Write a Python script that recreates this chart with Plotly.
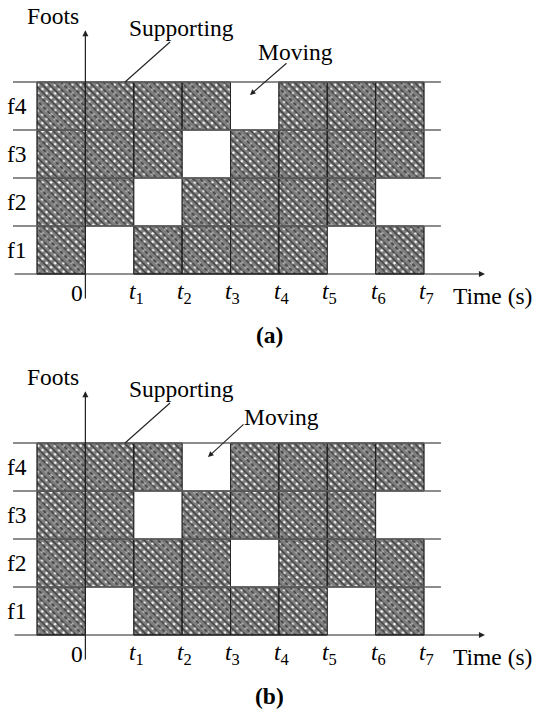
import plotly.graph_objects as go

# ---------------- data ----------------
feet = ["f1", "f2", "f3", "f4"]
col_starts = [-1, 0, 1, 2, 3, 4, 5, 6]          # each gait cell spans [start, start+1]
tick_vals = [1, 2, 3, 4, 5, 6, 7]
tick_text = ["<i>t</i><sub>%d</sub>" % k for k in tick_vals]

# cells where each foot is moving (start of the interval), panel (a)
moving_a_f1 = [0, 5]
moving_a_f2 = [1, 6]
moving_a_f3 = [2]
moving_a_f4 = [3]
# panel (b)
moving_b_f1 = [0, 5]
moving_b_f2 = [3]
moving_b_f3 = [1, 6]
moving_b_f4 = [2]

panels = [
    dict(name="(a)", xa="x", ya="y", moving=[moving_a_f1, moving_a_f2, moving_a_f3, moving_a_f4],
         mov_text=(4.354, 4.625), mov_tail=(4.189, 4.417), mov_head=(3.403, 3.729)),
    dict(name="(b)", xa="x2", ya="y2", moving=[moving_b_f1, moving_b_f2, moving_b_f3, moving_b_f4],
         mov_text=(4.044, 4.54), mov_tail=(3.30, 4.417), mov_head=(2.535, 3.708)),
]

FONT = "Liberation Serif"
FS = 23.5

fig = go.Figure()
shapes = []
annotations = []


def txt(xa, ya, x, y, s, **kw):
    d = dict(xref=xa, yref=ya, x=x, y=y, text=s, showarrow=False,
             font=dict(family=FONT, size=FS, color="black"))
    d.update(kw)
    annotations.append(d)


for p in panels:
    xa, ya = p["xa"], p["ya"]
    for row, mv in enumerate(p["moving"]):
        support = [c for c in col_starts if c not in mv]
        common = dict(x=[c + 0.5 for c in support], y=[1] * len(support), base=[row] * len(support),
                      width=1, xaxis=xa, yaxis=ya, showlegend=False, hoverinfo="skip")
        fig.add_trace(go.Bar(
            **common,
            marker=dict(color="white", line=dict(color="#222", width=0.8),
                        pattern=dict(shape="x", fgcolor="black", bgcolor="white",
                                     size=6, solidity=0.85)),
        ))
        fig.add_trace(go.Bar(
            **common,
            marker=dict(color="rgba(0,0,0,0)", line=dict(color="#222", width=0.8),
                        pattern=dict(shape="\\", fgcolor="black", bgcolor="rgba(0,0,0,0)",
                                     size=5, solidity=0.3)),
        ))
    # horizontal row separators
    for r in range(1, 5):
        shapes.append(dict(type="line", xref=xa, yref=ya, x0=-1.496, x1=7.35, y0=r, y1=r,
                           line=dict(color="#666", width=1.3), layer="above"))
    # x axis arrow
    annotations.append(dict(xref=xa, yref=ya, axref=xa, ayref=ya, x=8.26, y=0, ax=-1.496, ay=0,
                            text="", showarrow=True, arrowhead=2, arrowsize=1, arrowwidth=1.2,
                            arrowcolor="#222"))
    # y axis arrow
    annotations.append(dict(xref=xa, yref=ya, axref=xa, ayref=ya, x=0, y=5.08, ax=0, ay=-0.54,
                            text="", showarrow=True, arrowhead=2, arrowsize=1, arrowwidth=1.2,
                            arrowcolor="#222"))
    # tick labels
    txt(xa, ya, -0.173, -0.396, "0")
    for v, t in zip(tick_vals, tick_text):
        txt(xa, ya, v + 0.05, -0.40, t)
    # row labels
    for r, f in enumerate(feet):
        txt(xa, ya, -1.413, r + 0.5, f)
    txt(xa, ya, 8.406, -0.45, "Time (s)")
    txt(xa, ya, -0.669, 5.375, "Foots")
    # Supporting label + leader
    txt(xa, ya, 1.977, 5.125, "Supporting")
    shapes.append(dict(type="line", xref=xa, yref=ya, x0=1.749, y0=4.833, x1=0.819, y1=4.0,
                       line=dict(color="#222", width=1.1), layer="above"))
    # Moving label + arrow
    mx, my = p["mov_text"]
    txt(xa, ya, mx, my, "Moving")
    (tx, ty), (hx, hy) = p["mov_tail"], p["mov_head"]
    annotations.append(dict(xref=xa, yref=ya, axref=xa, ayref=ya, x=hx, y=hy, ax=tx, ay=ty,
                            text="", showarrow=True, arrowhead=2, arrowsize=1, arrowwidth=1.1,
                            arrowcolor="#222"))
    # panel label
    txt(xa, ya, 3.816, -1.27, "<b>%s</b>" % p["name"])

ax_common = dict(visible=False, showgrid=False, zeroline=False, fixedrange=True)
fig.update_layout(
    width=538, height=711, margin=dict(l=0, r=0, t=0, b=0),
    paper_bgcolor="white", plot_bgcolor="white", barmode="overlay",
    font=dict(family=FONT, size=FS, color="black"),
    xaxis=dict(domain=[0, 1], range=[-1.765, 9.357], anchor="y", **ax_common),
    yaxis=dict(domain=[1 - 350 / 711, 1], range=[-1.583, 5.708], anchor="x", **ax_common),
    xaxis2=dict(domain=[0, 1], range=[-1.765, 9.357], anchor="y2", **ax_common),
    yaxis2=dict(domain=[0, 350 / 711], range=[-1.583, 5.708], anchor="x2", **ax_common),
    shapes=shapes, annotations=annotations,
)

fig.write_html("out.html")
